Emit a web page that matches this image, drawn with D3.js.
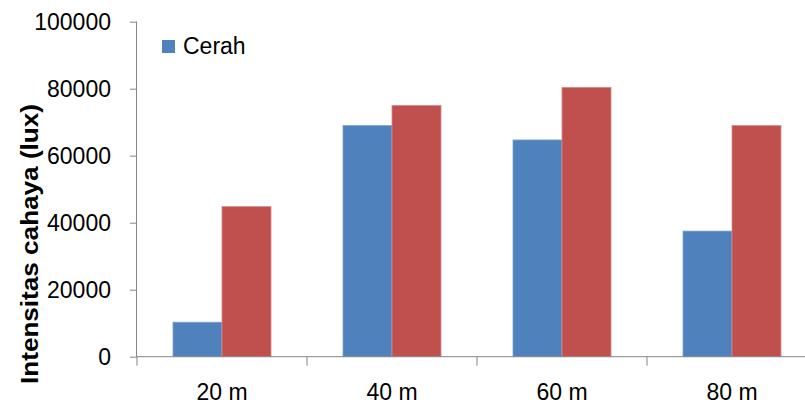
<!DOCTYPE html>
<html>
<head>
<meta charset="utf-8">
<script src="https://cdn.jsdelivr.net/npm/d3@7"></script>
<style>
  html, body { margin: 0; padding: 0; background: #fff; }
  svg { display: block; }
  text { font-family: "Liberation Sans", Arial, sans-serif; fill: #000; }
</style>
</head>
<body>
<svg id="chart" width="805" height="405"></svg>
<script>
const categories = ["20 m", "40 m", "60 m", "80 m"];
const seriesNames = ["Cerah", "Seri 2"];
const cerah = [10300, 69000, 64700, 37500];
const seri2 = [44800, 75000, 80400, 69000];
const yTicks = [0, 20000, 40000, 60000, 80000, 100000];

const colors = ["#4F81BD", "#C0504D"];
const strokes = ["#7FA3D1", "#D98A88"];

const svg = d3.select("#chart");
const x0 = 137, xEnd = 817, yBase = 356.7, yTop = 21.7;

const x = d3.scaleBand().domain(categories).range([x0, xEnd]).paddingInner(0.4235).paddingOuter(0.21175);
const xs = d3.scaleBand().domain(seriesNames).range([0, x.bandwidth()]);
const y = d3.scaleLinear().domain([0, 100000]).range([yBase, yTop]);

const data = [cerah, seri2];

// bars
seriesNames.forEach((s, si) => {
  svg.append("g").selectAll("rect").data(categories).join("rect")
    .attr("x", (c) => x(c) + xs(s))
    .attr("y", (c, i) => y(data[si][i]))
    .attr("width", xs.bandwidth())
    .attr("height", (c, i) => yBase - y(data[si][i]))
    .attr("fill", colors[si])
    .attr("stroke", strokes[si])
    .attr("stroke-width", 0.8);
});

// y axis
const yAxis = d3.axisLeft(y).tickValues(yTicks).tickSize(7).tickPadding(19).tickFormat(d3.format("d"));
const gy = svg.append("g").attr("transform", `translate(${x0},0)`).call(yAxis);
gy.select(".domain").attr("stroke", "#868686").attr("d", `M-0.5,${yBase}V${yTop}`);
gy.selectAll(".tick line").attr("stroke", "#868686");
gy.selectAll(".tick text").style("font-size", "23px").attr("fill", "#000").attr("dy", "0.36em");

// x axis
const gx = svg.append("g");
gx.append("line").attr("x1", x0).attr("x2", 805).attr("y1", yBase).attr("y2", yBase).attr("stroke", "#868686");
const boundaries = categories.map(c => x(c) - (x.step() - x.bandwidth()) / 2);
gx.selectAll("line.t").data(boundaries).join("line").attr("class", "t")
  .attr("x1", d => d).attr("x2", d => d).attr("y1", yBase).attr("y2", yBase + 9)
  .attr("stroke", "#868686");
gx.selectAll("text").data(categories).join("text")
  .attr("x", c => x(c) + x.bandwidth() / 2)
  .attr("y", 400)
  .attr("text-anchor", "middle")
  .style("font-size", "23px")
  .text(c => c);

// y label
svg.append("text")
  .attr("transform", `translate(38,244) rotate(-90)`)
  .attr("text-anchor", "middle")
  .style("font-size", "24px")
  .style("font-weight", "bold")
  .attr("textLength", 280)
  .attr("lengthAdjust", "spacingAndGlyphs")
  .text("Intensitas cahaya (lux)");

// legend
svg.append("rect").attr("x", 162).attr("y", 40).attr("width", 13).attr("height", 13).attr("fill", colors[0]);
svg.append("text").attr("x", 183).attr("y", 54).style("font-size", "23px").text(seriesNames[0]);
</script>
</body>
</html>
